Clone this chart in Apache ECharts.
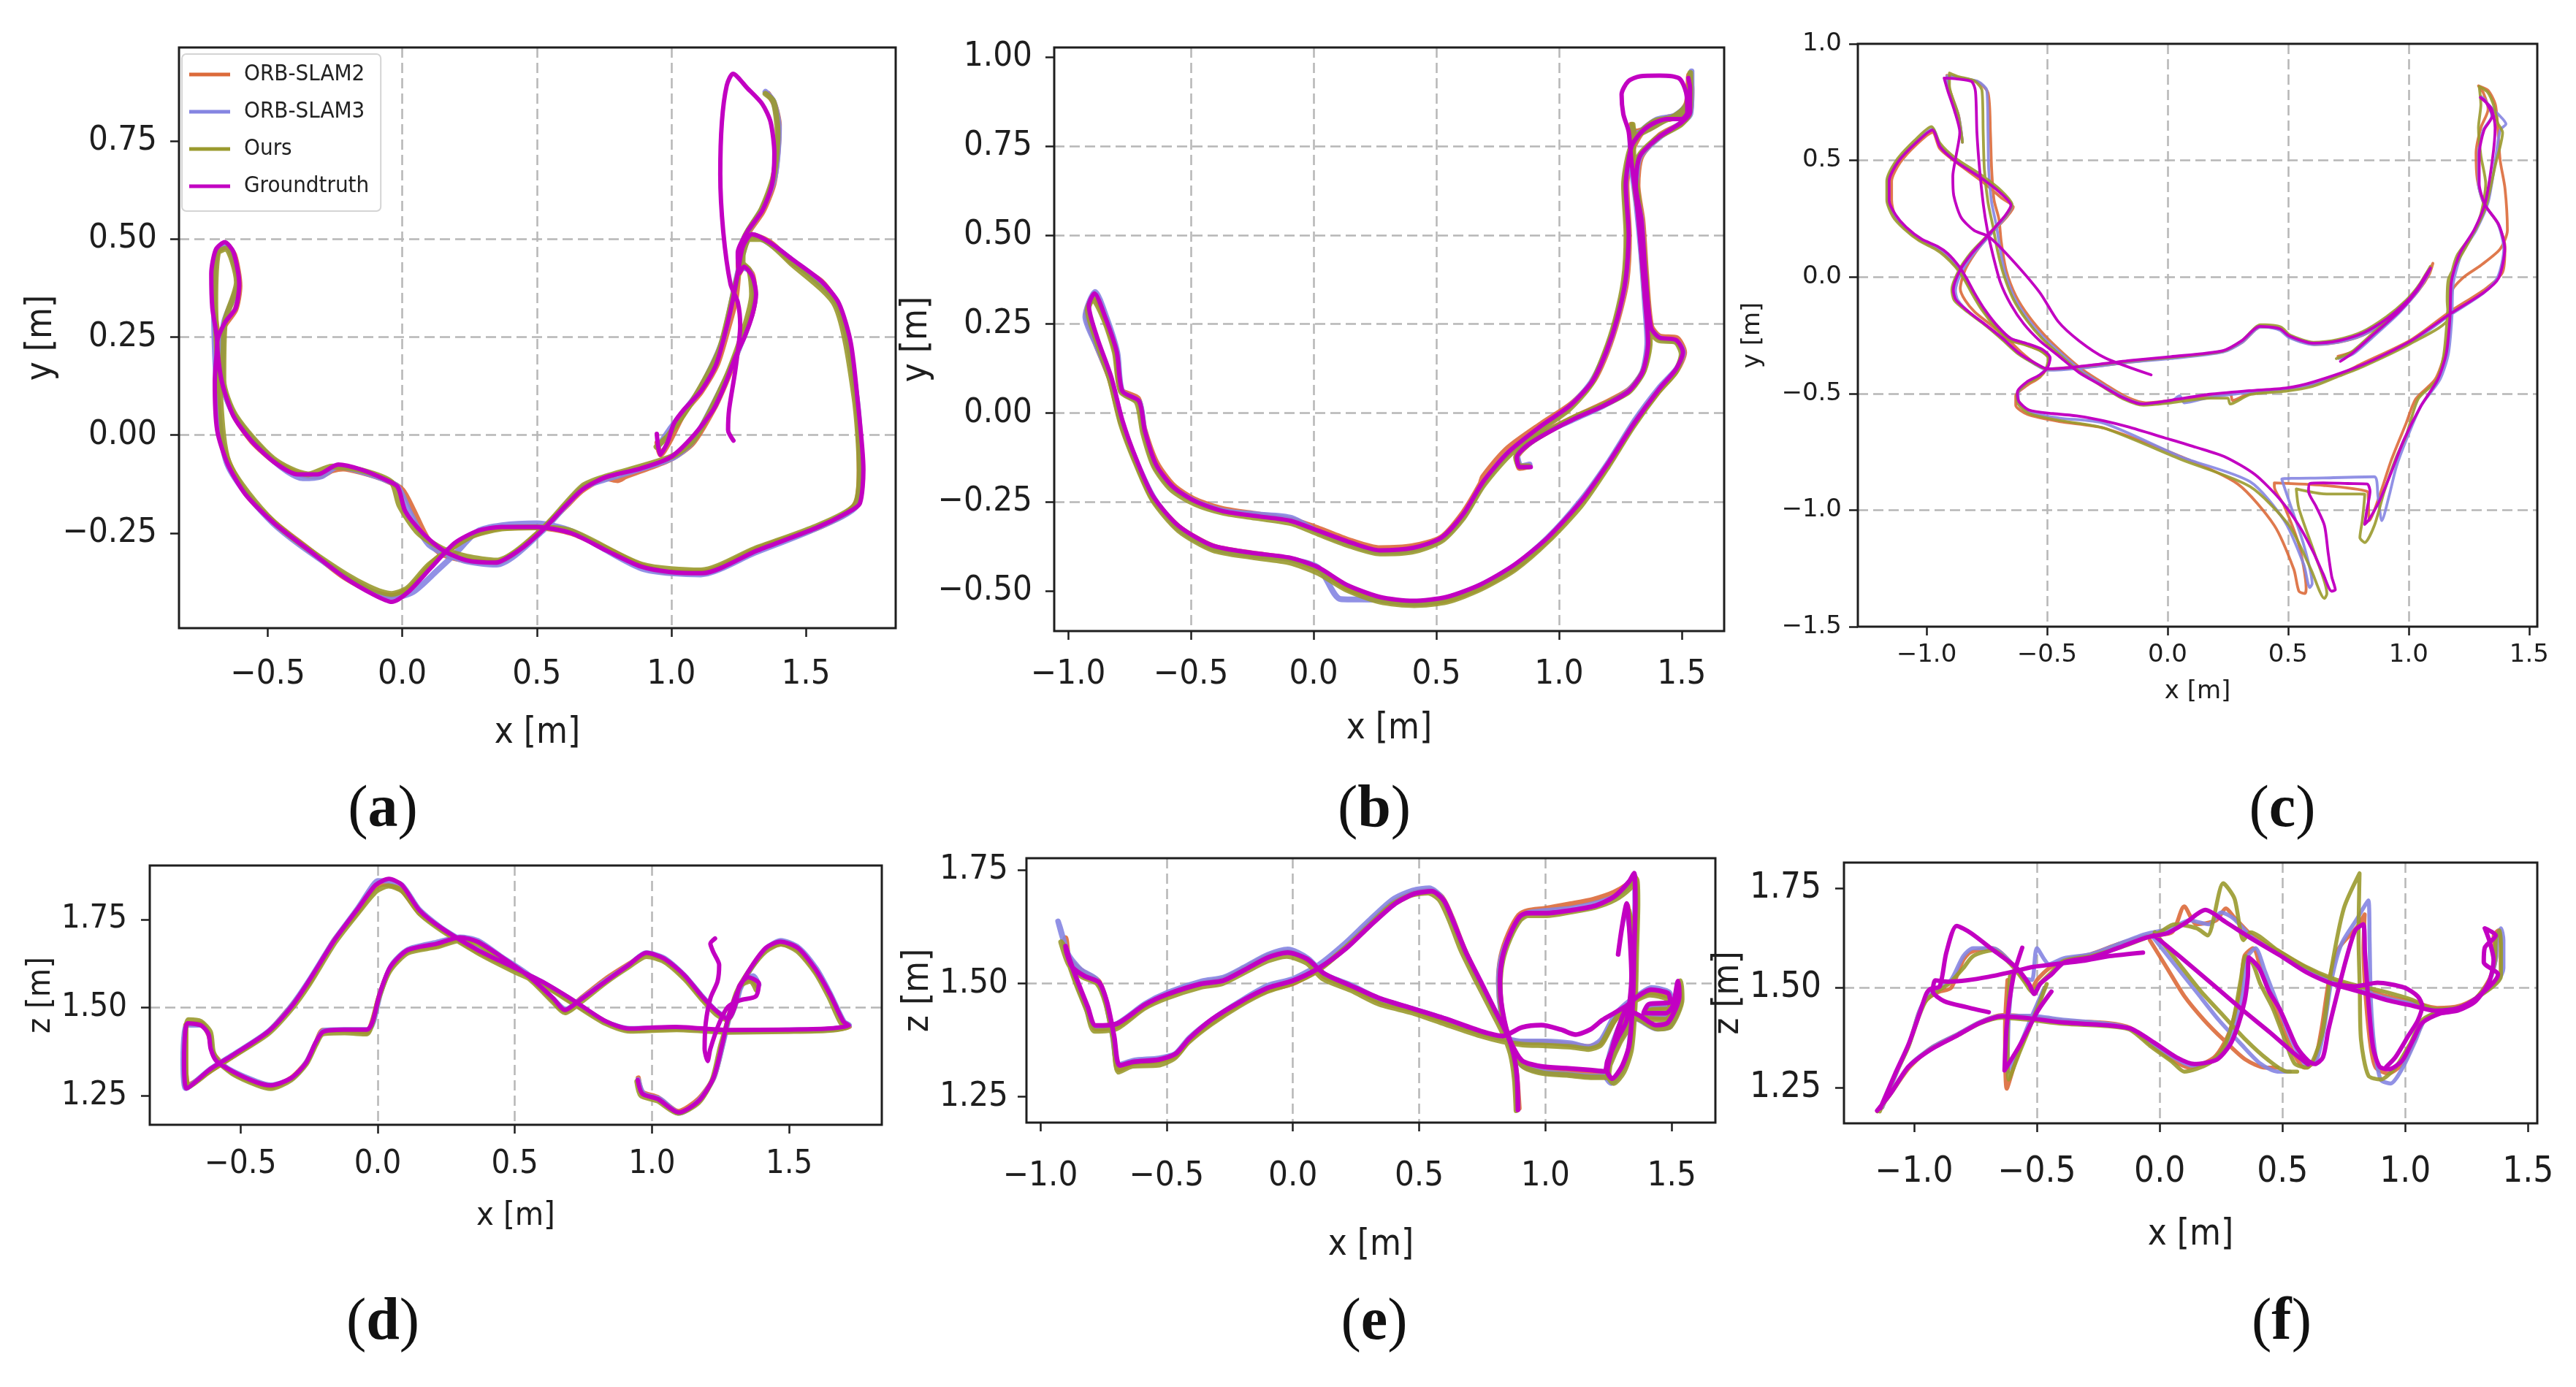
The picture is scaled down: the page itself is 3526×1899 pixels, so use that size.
<!DOCTYPE html>
<html><head><meta charset="utf-8">
<script src="https://cdn.jsdelivr.net/npm/echarts@6/dist/echarts.min.js"></script>
<style>html,body{margin:0;padding:0;background:#fff}#c{width:3526px;height:1899px}</style>
</head><body><div id="c"></div>
<script>
const NAMES = ['ORB-SLAM2', 'ORB-SLAM3', 'Ours', 'Groundtruth'];
const PANEL_LABELS = ['a', 'b', 'c', 'd', 'e', 'f'];
const GAP = [null, null];

// tick values
const TX_AD = [-0.5, 0, 0.5, 1.0, 1.5];
const TX_BCEF = [-1.0, -0.5, 0, 0.5, 1.0, 1.5];
const TY_A = [-0.25, 0, 0.25, 0.5, 0.75];
const TY_B = [-0.5, -0.25, 0, 0.25, 0.5, 0.75, 1.0];
const TY_C = [-1.5, -1.0, -0.5, 0, 0.5, 1.0];
const TZ = [1.25, 1.5, 1.75];

// ---------------- panel (a): x-y ----------------
const a_gt = [[0.946,0.003],[0.958,-0.05],[0.985,-0.02],[1.01,0.03],[1.048,0.066],[1.111,0.113],[1.166,0.179],[1.202,0.266],[1.229,0.346],[1.247,0.412],[1.265,0.479],[1.30,0.512],[1.364,0.492],[1.450,0.448],[1.558,0.392],[1.623,0.336],[1.667,0.236],[1.693,0.086],[1.714,-0.088],[1.701,-0.174],[1.656,-0.197],[1.537,-0.237],[1.320,-0.294],[1.115,-0.352],[0.996,-0.349],[0.887,-0.335],[0.758,-0.294],[0.628,-0.250],[0.498,-0.234],[0.368,-0.234],[0.281,-0.244],[0.195,-0.275],[0.108,-0.337],[0.022,-0.400],[-0.039,-0.425],[-0.108,-0.406],[-0.216,-0.362],[-0.346,-0.294],[-0.476,-0.225],[-0.584,-0.150],[-0.649,-0.074],[-0.688,0.012],[-0.697,0.137],[-0.688,0.236],[-0.706,0.324],[-0.710,0.411],[-0.693,0.473],[-0.660,0.492],[-0.628,0.467],[-0.606,0.386],[-0.619,0.324],[-0.660,0.286],[-0.688,0.236],[-0.671,0.137],[-0.628,0.049],[-0.563,-0.013],[-0.476,-0.069],[-0.390,-0.100],[-0.314,-0.100],[-0.238,-0.075],[-0.152,-0.088],[-0.065,-0.113],[-0.017,-0.132],[0.011,-0.194],[0.076,-0.250],[0.152,-0.294],[0.238,-0.319],[0.346,-0.325],[0.433,-0.294],[0.519,-0.244],[0.606,-0.181],[0.671,-0.138],[0.758,-0.107],[0.887,-0.085],[0.996,-0.057],[1.084,0.0],[1.157,0.066],[1.202,0.133],[1.238,0.199],[1.274,0.253],[1.301,0.306],[1.315,0.359],[1.301,0.405],[1.270,0.429],[1.252,0.412],[1.247,0.465],[1.283,0.519],[1.338,0.572],[1.374,0.638],[1.383,0.718],[1.369,0.798],[1.338,0.844],[1.283,0.884],[1.229,0.921],[1.206,0.891],[1.188,0.798],[1.182,0.665],[1.193,0.519],[1.220,0.385],[1.247,0.339],[1.256,0.279],[1.238,0.166],[1.215,0.066],[1.211,0.013],[1.231,-0.014]];
const a_orb2 = [[0.948,-0.02],[0.96,-0.05],[0.99,-0.02],[1.05,0.06],[1.11,0.11],[1.17,0.18],[1.21,0.27],[1.24,0.35],[1.26,0.47],[1.30,0.51],[1.37,0.49],[1.45,0.44],[1.56,0.39],[1.62,0.33],[1.66,0.23],[1.69,0.08],[1.70,-0.09],[1.69,-0.17],[1.65,-0.20],[1.53,-0.24],[1.32,-0.29],[1.11,-0.35],[0.99,-0.35],[0.88,-0.33],[0.76,-0.29],[0.63,-0.25],[0.50,-0.235],[0.37,-0.236],[0.28,-0.25],[0.20,-0.28],[0.12,-0.32],[0.03,-0.39],[-0.04,-0.41],[-0.11,-0.40],[-0.22,-0.36],[-0.35,-0.29],[-0.48,-0.22],[-0.58,-0.15],[-0.645,-0.07],[-0.68,0.01],[-0.69,0.14],[-0.685,0.24],[-0.70,0.33],[-0.70,0.41],[-0.685,0.47],[-0.655,0.48],[-0.625,0.46],[-0.605,0.38],[-0.62,0.32],[-0.66,0.28],[-0.685,0.23],[-0.67,0.13],[-0.625,0.05],[-0.56,-0.015],[-0.47,-0.07],[-0.38,-0.10],[-0.31,-0.105],[-0.26,-0.09],[-0.22,-0.085],[-0.15,-0.095],[-0.06,-0.115],[0.0,-0.14],[0.04,-0.19],[0.09,-0.26],[0.14,-0.30],[0.24,-0.32],[0.35,-0.325],[0.44,-0.29],[0.52,-0.24],[0.61,-0.18],[0.67,-0.14],[0.76,-0.11],[0.80,-0.115],[0.83,-0.105],[0.89,-0.09],[1.00,-0.06],[1.08,-0.02],[1.16,0.07],[1.20,0.13],[1.24,0.20],[1.27,0.26],[1.30,0.31],[1.31,0.36],[1.30,0.41],[1.27,0.43],[1.25,0.41],[1.25,0.46],[1.29,0.52],[1.34,0.57],[1.38,0.64],[1.395,0.72],[1.40,0.79],[1.385,0.84],[1.36,0.87]];
const a_orb3 = [[0.95,-0.03],[1.00,0.02],[1.10,0.11],[1.19,0.24],[1.25,0.42],[1.30,0.51],[1.45,0.445],[1.62,0.33],[1.69,0.09],[1.705,-0.09],[1.69,-0.18],[1.53,-0.24],[1.31,-0.30],[1.11,-0.355],[0.89,-0.34],[0.63,-0.245],[0.50,-0.225],[0.37,-0.23],[0.28,-0.245],[0.20,-0.30],[0.13,-0.345],[0.04,-0.40],[-0.04,-0.415],[-0.21,-0.36],[-0.48,-0.225],[-0.65,-0.075],[-0.69,0.13],[-0.70,0.33],[-0.69,0.47],[-0.655,0.485],[-0.61,0.39],[-0.665,0.28],[-0.67,0.14],[-0.62,0.045],[-0.48,-0.065],[-0.37,-0.11],[-0.30,-0.105],[-0.24,-0.08],[-0.12,-0.10],[-0.02,-0.13],[0.03,-0.20],[0.10,-0.28],[0.23,-0.32],[0.35,-0.33],[0.52,-0.245],[0.67,-0.135],[0.77,-0.11],[1.00,-0.06],[1.08,-0.015],[1.20,0.14],[1.28,0.27],[1.31,0.35],[1.29,0.42],[1.26,0.43],[1.27,0.50],[1.34,0.58],[1.385,0.66],[1.40,0.78],[1.38,0.85],[1.35,0.875]];
const a_ours = [[0.945,-0.03],[0.99,0.0],[1.09,0.10],[1.18,0.22],[1.245,0.40],[1.29,0.50],[1.33,0.50],[1.45,0.435],[1.61,0.33],[1.68,0.10],[1.70,-0.09],[1.68,-0.18],[1.53,-0.235],[1.31,-0.29],[1.11,-0.345],[0.89,-0.33],[0.63,-0.245],[0.49,-0.235],[0.37,-0.238],[0.25,-0.26],[0.10,-0.33],[0.02,-0.39],[-0.04,-0.405],[-0.21,-0.355],[-0.48,-0.22],[-0.645,-0.07],[-0.68,0.13],[-0.695,0.34],[-0.685,0.465],[-0.655,0.475],[-0.615,0.39],[-0.66,0.285],[-0.665,0.14],[-0.62,0.05],[-0.48,-0.06],[-0.35,-0.10],[-0.26,-0.08],[-0.15,-0.09],[-0.04,-0.12],[-0.01,-0.18],[0.06,-0.25],[0.15,-0.29],[0.24,-0.31],[0.35,-0.32],[0.52,-0.24],[0.67,-0.13],[0.76,-0.105],[1.00,-0.055],[1.085,-0.01],[1.20,0.14],[1.27,0.27],[1.30,0.36],[1.29,0.42],[1.265,0.44],[1.27,0.50],[1.335,0.575],[1.38,0.66],[1.395,0.77],[1.38,0.85],[1.35,0.87]];

// ---------------- panel (b): x-y ----------------
const b_gt = [[0.885,-0.152],[0.839,-0.152],[0.828,-0.125],[0.873,-0.090],[0.953,-0.056],[1.067,-0.015],[1.181,0.020],[1.284,0.061],[1.341,0.116],[1.363,0.198],[1.352,0.308],[1.336,0.446],[1.318,0.583],[1.295,0.707],[1.284,0.790],[1.262,0.840],[1.255,0.895],[1.282,0.932],[1.330,0.946],[1.409,0.948],[1.490,0.940],[1.518,0.900],[1.523,0.845],[1.500,0.826],[1.440,0.826],[1.380,0.812],[1.330,0.785],[1.295,0.748],[1.272,0.639],[1.284,0.501],[1.272,0.377],[1.238,0.267],[1.192,0.171],[1.135,0.088],[1.044,0.020],[0.930,-0.035],[0.794,-0.110],[0.691,-0.193],[0.611,-0.283],[0.520,-0.351],[0.406,-0.379],[0.269,-0.386],[0.155,-0.365],[0.019,-0.331],[-0.095,-0.303],[-0.232,-0.290],[-0.369,-0.276],[-0.483,-0.248],[-0.574,-0.207],[-0.642,-0.145],[-0.688,-0.049],[-0.711,0.033],[-0.779,0.061],[-0.802,0.171],[-0.848,0.267],[-0.893,0.336],[-0.916,0.302],[-0.882,0.212],[-0.825,0.102],[-0.779,-0.021],[-0.722,-0.131],[-0.654,-0.234],[-0.551,-0.317],[-0.414,-0.372],[-0.255,-0.393],[-0.095,-0.407],[0.019,-0.434],[0.132,-0.482],[0.269,-0.517],[0.406,-0.528],[0.543,-0.517],[0.680,-0.482],[0.817,-0.427],[0.953,-0.351],[1.090,-0.248],[1.204,-0.138],[1.306,-0.029],[1.409,0.068],[1.477,0.123],[1.505,0.171],[1.477,0.205],[1.409,0.212],[1.375,0.240],[1.352,0.391],[1.336,0.542],[1.313,0.639],[1.329,0.721],[1.409,0.776],[1.500,0.817],[1.534,0.845],[1.534,0.913],[1.527,0.941]];
const b_orb2 = [[0.88,-0.15],[0.84,-0.155],[0.83,-0.125],[0.875,-0.088],[0.955,-0.05],[1.07,-0.01],[1.18,0.025],[1.285,0.065],[1.345,0.12],[1.365,0.20],[1.355,0.31],[1.34,0.45],[1.32,0.59],[1.30,0.70],[1.295,0.81],[1.31,0.79],[1.36,0.80],[1.44,0.83],[1.52,0.84],[1.535,0.90],[1.53,0.95],[1.52,0.87],[1.47,0.83],[1.40,0.82],[1.34,0.79],[1.30,0.74],[1.275,0.64],[1.285,0.50],[1.275,0.37],[1.24,0.265],[1.195,0.17],[1.14,0.09],[1.05,0.025],[0.93,-0.03],[0.79,-0.10],[0.69,-0.18],[0.68,-0.20],[0.61,-0.28],[0.52,-0.35],[0.40,-0.375],[0.27,-0.38],[0.155,-0.36],[0.02,-0.325],[-0.09,-0.30],[-0.23,-0.285],[-0.37,-0.27],[-0.48,-0.245],[-0.57,-0.205],[-0.64,-0.14],[-0.69,-0.045],[-0.715,0.04],[-0.785,0.065],[-0.805,0.17],[-0.85,0.265],[-0.895,0.33],[-0.925,0.28],[-0.89,0.20],[-0.83,0.095],[-0.785,-0.025],[-0.725,-0.135],[-0.655,-0.24],[-0.55,-0.32],[-0.41,-0.375],[-0.25,-0.395],[-0.10,-0.41],[0.02,-0.44],[0.13,-0.49],[0.27,-0.525],[0.41,-0.535],[0.545,-0.525],[0.68,-0.49],[0.82,-0.435],[0.955,-0.355],[1.09,-0.25],[1.205,-0.14],[1.305,-0.03],[1.41,0.065],[1.48,0.12],[1.51,0.17],[1.48,0.21],[1.41,0.215],[1.375,0.245],[1.355,0.39],[1.34,0.54],[1.32,0.64],[1.335,0.72],[1.41,0.78],[1.50,0.815],[1.535,0.85],[1.54,0.91],[1.535,0.945]];
const b_orb3 = [[0.88,-0.145],[0.845,-0.15],[0.83,-0.12],[0.88,-0.085],[0.96,-0.05],[1.07,-0.015],[1.18,0.02],[1.28,0.06],[1.34,0.115],[1.36,0.20],[1.35,0.31],[1.335,0.45],[1.315,0.59],[1.295,0.70],[1.29,0.80],[1.31,0.785],[1.37,0.80],[1.45,0.83],[1.52,0.845],[1.535,0.91],[1.54,0.96],[1.525,0.87],[1.47,0.835],[1.40,0.825],[1.34,0.795],[1.295,0.745],[1.27,0.64],[1.28,0.50],[1.27,0.375],[1.235,0.265],[1.19,0.17],[1.13,0.085],[1.04,0.015],[0.93,-0.04],[0.79,-0.115],[0.69,-0.20],[0.61,-0.29],[0.52,-0.355],[0.40,-0.385],[0.27,-0.39],[0.155,-0.37],[0.02,-0.335],[-0.09,-0.295],[-0.23,-0.285],[-0.37,-0.275],[-0.48,-0.25],[-0.575,-0.21],[-0.645,-0.15],[-0.69,-0.05],[-0.71,0.03],[-0.78,0.06],[-0.80,0.17],[-0.845,0.27],[-0.89,0.34],[-0.93,0.27],[-0.885,0.19],[-0.825,0.09],[-0.78,-0.03],[-0.72,-0.14],[-0.65,-0.24],[-0.55,-0.325],[-0.41,-0.38],[-0.25,-0.40],[-0.10,-0.41],[0.02,-0.435],[0.11,-0.523],[0.27,-0.525],[0.41,-0.535],[0.545,-0.52],[0.68,-0.485],[0.82,-0.43],[0.955,-0.35],[1.09,-0.245],[1.205,-0.135],[1.31,-0.02],[1.41,0.072],[1.48,0.125],[1.505,0.17],[1.48,0.20],[1.41,0.21],[1.37,0.24],[1.35,0.39],[1.335,0.54],[1.315,0.64],[1.33,0.72],[1.41,0.775],[1.50,0.815],[1.535,0.84],[1.54,0.91],[1.54,0.955]];
const b_ours = [[0.875,-0.15],[0.84,-0.15],[0.825,-0.125],[0.87,-0.09],[0.95,-0.055],[1.065,-0.012],[1.18,0.022],[1.285,0.06],[1.345,0.118],[1.37,0.20],[1.36,0.31],[1.345,0.45],[1.325,0.59],[1.305,0.70],[1.30,0.81],[1.31,0.78],[1.36,0.795],[1.44,0.825],[1.515,0.84],[1.53,0.90],[1.535,0.955],[1.52,0.865],[1.46,0.83],[1.39,0.82],[1.335,0.79],[1.29,0.74],[1.265,0.64],[1.275,0.50],[1.265,0.375],[1.23,0.26],[1.185,0.165],[1.13,0.08],[1.04,0.01],[0.93,-0.045],[0.795,-0.12],[0.69,-0.205],[0.61,-0.295],[0.52,-0.36],[0.40,-0.39],[0.27,-0.395],[0.155,-0.375],[0.02,-0.34],[-0.09,-0.31],[-0.23,-0.295],[-0.37,-0.28],[-0.485,-0.255],[-0.58,-0.215],[-0.65,-0.15],[-0.695,-0.055],[-0.72,0.03],[-0.785,0.06],[-0.81,0.17],[-0.855,0.265],[-0.90,0.32],[-0.92,0.29],[-0.885,0.205],[-0.83,0.095],[-0.785,-0.03],[-0.725,-0.14],[-0.655,-0.245],[-0.55,-0.33],[-0.41,-0.385],[-0.25,-0.405],[-0.10,-0.42],[0.02,-0.45],[0.13,-0.495],[0.27,-0.53],[0.41,-0.54],[0.545,-0.53],[0.68,-0.495],[0.82,-0.44],[0.955,-0.36],[1.09,-0.26],[1.20,-0.15],[1.30,-0.04],[1.405,0.06],[1.475,0.115],[1.50,0.165],[1.475,0.20],[1.405,0.205],[1.37,0.235],[1.345,0.39],[1.33,0.54],[1.31,0.64],[1.325,0.72],[1.405,0.775],[1.495,0.81],[1.53,0.84],[1.535,0.91],[1.535,0.95]];

// ---------------- panel (c): x-y ----------------
const c_gt = [[-0.068,-0.420],[-0.259,-0.347],[-0.367,-0.274],[-0.454,-0.191],[-0.530,-0.067],[-0.650,0.079],[-0.742,0.173],[-0.802,0.199],[-0.857,0.256],[-0.887,0.349],[-0.891,0.432],[-0.878,0.516],[-0.862,0.620],[-0.884,0.713],[-0.911,0.796],[-0.927,0.853],[-0.878,0.850],[-0.813,0.838],[-0.797,0.796],[-0.791,0.620],[-0.780,0.464],[-0.764,0.308],[-0.748,0.204],[-0.726,0.100],[-0.693,-0.025],[-0.650,-0.119],[-0.596,-0.202],[-0.530,-0.274],[-0.454,-0.337],[-0.367,-0.410],[-0.280,-0.462],[-0.193,-0.514],[-0.107,-0.545],[0.013,-0.529],[0.176,-0.503],[0.339,-0.488],[0.494,-0.476],[0.606,-0.450],[0.808,-0.377],[1.010,-0.274],[1.172,-0.159],[1.313,-0.066],[1.374,-0.004],[1.399,0.121],[1.374,0.225],[1.318,0.308],[1.293,0.401],[1.293,0.526],[1.313,0.630],[1.348,0.692],[1.318,0.754],[1.298,0.770],[1.343,0.723],[1.359,0.640],[1.348,0.505],[1.318,0.318],[1.273,0.204],[1.212,0.100],[1.177,-0.024],[1.172,-0.170],[1.157,-0.326],[1.121,-0.440],[1.051,-0.554],[0.980,-0.700],[0.929,-0.836],[0.879,-0.961],[0.833,-1.045],[0.818,-1.061],[0.828,-0.993],[0.840,-0.920],[0.828,-0.888],[0.747,-0.886],[0.646,-0.883],[0.590,-0.886],[0.585,-0.920],[0.615,-0.982],[0.651,-1.066],[0.666,-1.181],[0.681,-1.285],[0.696,-1.342],[0.681,-1.348],[0.646,-1.275],[0.605,-1.181],[0.545,-1.066],[0.464,-0.951],[0.362,-0.847],[0.241,-0.773],[0.119,-0.731],[-0.012,-0.690],[-0.164,-0.643],[-0.265,-0.617],[-0.367,-0.597],[-0.476,-0.586],[-0.574,-0.571],[-0.617,-0.534],[-0.623,-0.493],[-0.585,-0.451],[-0.530,-0.420],[-0.498,-0.389],[-0.487,-0.347],[-0.520,-0.311],[-0.585,-0.285],[-0.650,-0.264],[-0.704,-0.212],[-0.759,-0.139],[-0.802,-0.067],[-0.835,-0.004],[-0.867,0.048],[-0.911,0.100],[-0.954,0.131],[-1.020,0.162],[-1.085,0.214],[-1.128,0.266],[-1.155,0.328],[-1.155,0.412],[-1.117,0.495],[-1.041,0.578],[-0.976,0.630],[-0.943,0.557],[-0.878,0.495],[-0.770,0.422],[-0.693,0.360],[-0.650,0.308],[-0.672,0.266],[-0.715,0.214],[-0.759,0.162],[-0.813,0.100],[-0.862,0.027],[-0.889,-0.056],[-0.878,-0.098],[-0.824,-0.150],[-0.759,-0.202],[-0.683,-0.264],[-0.617,-0.326],[-0.552,-0.368],[-0.498,-0.394],[-0.367,-0.384],[-0.150,-0.358],[0.013,-0.342],[0.230,-0.316],[0.307,-0.274],[0.383,-0.212],[0.465,-0.222],[0.505,-0.253],[0.606,-0.284],[0.707,-0.274],[0.808,-0.242],[0.909,-0.180],[0.990,-0.107],[1.040,-0.045],[1.071,0.007],[1.091,0.038],[1.076,0.007],[1.030,-0.066],[0.960,-0.149],[0.859,-0.242],[0.768,-0.326],[0.717,-0.362]];
const c_orb2 = [[-0.851,0.578],[-0.867,0.692],[-0.905,0.807],[-0.916,0.865],[-0.878,0.857],[-0.790,0.838],[-0.745,0.79],[-0.735,0.62],[-0.730,0.464],[-0.720,0.33],[-0.70,0.25],[-0.69,0.15],[-0.67,0.03],[-0.63,-0.08],[-0.575,-0.17],[-0.51,-0.25],[-0.43,-0.33],[-0.35,-0.40],[-0.26,-0.46],[-0.17,-0.515],[-0.09,-0.54],[0.013,-0.53],[0.18,-0.51],[0.26,-0.50],[0.27,-0.53],[0.34,-0.50],[0.49,-0.48],[0.60,-0.46],[0.70,-0.425],[0.81,-0.37],[1.01,-0.27],[1.17,-0.15],[1.32,-0.05],[1.39,0.02],[1.40,0.13],[1.37,0.23],[1.31,0.32],[1.285,0.42],[1.28,0.53],[1.30,0.64],[1.33,0.72],[1.31,0.79],[1.29,0.82],[1.33,0.80],[1.36,0.74],[1.37,0.64],[1.38,0.50],[1.40,0.38],[1.41,0.20],[1.38,0.12],[1.30,0.05],[1.23,0.0],[1.18,-0.06],[1.17,-0.20],[1.15,-0.33],[1.11,-0.44],[1.03,-0.523],[0.99,-0.627],[0.929,-0.784],[0.879,-0.940],[0.838,-1.045],[0.833,-0.951],[0.828,-0.920],[0.646,-0.894],[0.443,-0.883],[0.443,-0.899],[0.484,-0.982],[0.545,-1.149],[0.575,-1.337],[0.570,-1.358],[0.545,-1.348],[0.524,-1.254],[0.443,-1.066],[0.291,-0.888],[0.038,-0.763],[-0.265,-0.648],[-0.45,-0.62],[-0.58,-0.59],[-0.63,-0.55],[-0.63,-0.51],[-0.59,-0.47],[-0.53,-0.43],[-0.50,-0.39],[-0.49,-0.35],[-0.52,-0.32],[-0.59,-0.29],[-0.66,-0.265],[-0.71,-0.21],[-0.765,-0.14],[-0.805,-0.07],[-0.84,-0.01],[-0.875,0.045],[-0.92,0.095],[-0.96,0.125],[-1.03,0.16],[-1.09,0.21],[-1.13,0.26],[-1.145,0.33],[-1.145,0.41],[-1.11,0.49],[-1.04,0.57],[-0.975,0.62],[-0.945,0.55],[-0.875,0.49],[-0.77,0.41],[-0.69,0.34],[-0.64,0.30],[-0.665,0.26],[-0.71,0.21],[-0.755,0.16],[-0.80,0.10],[-0.84,0.03],[-0.86,-0.05],[-0.84,-0.10],[-0.80,-0.15],[-0.74,-0.20],[-0.67,-0.26],[-0.61,-0.32],[-0.55,-0.37],[-0.498,-0.395],[-0.367,-0.39],[-0.15,-0.365],[0.013,-0.345],[0.23,-0.32],[0.31,-0.28],[0.385,-0.215],[0.41,-0.215],[0.47,-0.225],[0.51,-0.26],[0.61,-0.29],[0.71,-0.28],[0.81,-0.25],[0.91,-0.19],[0.99,-0.115],[1.04,-0.05],[1.075,0.005],[1.101,0.059],[1.085,0.01],[1.04,-0.06],[0.97,-0.14],[0.87,-0.235],[0.78,-0.315],[0.707,-0.34]];
const c_orb3 = [[-0.851,0.578],[-0.867,0.69],[-0.908,0.81],[-0.915,0.862],[-0.875,0.855],[-0.79,0.84],[-0.75,0.80],[-0.745,0.62],[-0.742,0.46],[-0.73,0.32],[-0.71,0.22],[-0.695,0.12],[-0.675,0.02],[-0.635,-0.09],[-0.58,-0.18],[-0.515,-0.26],[-0.435,-0.335],[-0.355,-0.405],[-0.265,-0.465],[-0.175,-0.52],[-0.095,-0.545],[0.013,-0.535],[0.05,-0.51],[0.07,-0.54],[0.18,-0.515],[0.34,-0.495],[0.49,-0.48],[0.60,-0.46],[0.70,-0.425],[0.81,-0.38],[1.01,-0.28],[1.17,-0.165],[1.31,-0.07],[1.37,0.0],[1.395,0.12],[1.37,0.23],[1.315,0.31],[1.29,0.40],[1.29,0.53],[1.31,0.63],[1.345,0.69],[1.32,0.755],[1.30,0.775],[1.345,0.725],[1.37,0.70],[1.404,0.656],[1.38,0.63],[1.36,0.50],[1.33,0.32],[1.28,0.20],[1.22,0.10],[1.185,-0.03],[1.18,-0.17],[1.165,-0.33],[1.13,-0.44],[1.051,-0.554],[0.99,-0.70],[0.949,-0.815],[0.919,-0.94],[0.889,-1.045],[0.873,-0.94],[0.858,-0.857],[0.646,-0.862],[0.474,-0.867],[0.504,-0.961],[0.565,-1.149],[0.600,-1.316],[0.590,-1.332],[0.565,-1.233],[0.484,-1.045],[0.342,-0.878],[0.059,-0.773],[-0.265,-0.627],[-0.45,-0.605],[-0.57,-0.58],[-0.615,-0.54],[-0.62,-0.50],[-0.585,-0.455],[-0.53,-0.42],[-0.50,-0.385],[-0.49,-0.345],[-0.525,-0.31],[-0.59,-0.285],[-0.655,-0.262],[-0.71,-0.208],[-0.765,-0.136],[-0.808,-0.065],[-0.842,-0.002],[-0.875,0.05],[-0.918,0.10],[-0.96,0.13],[-1.025,0.162],[-1.09,0.214],[-1.135,0.265],[-1.16,0.33],[-1.16,0.41],[-1.12,0.495],[-1.045,0.578],[-0.975,0.635],[-0.94,0.56],[-0.875,0.495],[-0.765,0.42],[-0.685,0.355],[-0.645,0.305],[-0.668,0.262],[-0.712,0.21],[-0.755,0.158],[-0.808,0.095],[-0.855,0.02],[-0.88,-0.06],[-0.87,-0.10],[-0.82,-0.155],[-0.755,-0.205],[-0.68,-0.27],[-0.615,-0.33],[-0.55,-0.375],[-0.498,-0.40],[-0.367,-0.392],[-0.15,-0.365],[0.013,-0.35],[0.23,-0.322],[0.31,-0.28],[0.385,-0.215],[0.405,-0.215],[0.465,-0.228],[0.505,-0.26],[0.606,-0.29],[0.707,-0.28],[0.808,-0.25],[0.909,-0.19],[0.99,-0.115],[1.04,-0.05],[1.07,0.0],[1.09,0.035],[1.075,0.0],[1.03,-0.072],[0.96,-0.155],[0.86,-0.25],[0.77,-0.33],[0.71,-0.35]];
const c_ours = [[-0.851,0.578],[-0.87,0.70],[-0.905,0.82],[-0.905,0.875],[-0.87,0.86],[-0.80,0.84],[-0.77,0.80],[-0.765,0.62],[-0.76,0.46],[-0.745,0.32],[-0.725,0.22],[-0.705,0.11],[-0.68,0.01],[-0.64,-0.095],[-0.585,-0.185],[-0.52,-0.265],[-0.44,-0.34],[-0.36,-0.41],[-0.27,-0.47],[-0.18,-0.525],[-0.10,-0.55],[0.013,-0.54],[0.18,-0.52],[0.25,-0.52],[0.26,-0.545],[0.34,-0.505],[0.49,-0.49],[0.60,-0.47],[0.70,-0.43],[0.81,-0.385],[1.01,-0.285],[1.165,-0.175],[1.16,-0.10],[1.165,-0.01],[1.20,0.06],[1.26,0.17],[1.30,0.27],[1.32,0.40],[1.30,0.52],[1.29,0.64],[1.30,0.74],[1.293,0.817],[1.33,0.79],[1.355,0.73],[1.37,0.66],[1.39,0.62],[1.36,0.48],[1.32,0.30],[1.27,0.19],[1.20,0.09],[1.17,-0.03],[1.16,-0.18],[1.145,-0.34],[1.115,-0.445],[1.040,-0.523],[0.990,-0.680],[0.949,-0.773],[0.899,-0.920],[0.858,-1.066],[0.818,-1.139],[0.798,-1.118],[0.808,-1.045],[0.818,-0.932],[0.646,-0.930],[0.534,-0.909],[0.545,-0.993],[0.615,-1.201],[0.661,-1.358],[0.651,-1.379],[0.595,-1.254],[0.504,-1.066],[0.342,-0.899],[0.059,-0.784],[-0.265,-0.648],[-0.45,-0.615],[-0.575,-0.585],[-0.62,-0.545],[-0.625,-0.505],[-0.59,-0.46],[-0.535,-0.43],[-0.505,-0.395],[-0.495,-0.35],[-0.53,-0.315],[-0.595,-0.29],[-0.66,-0.27],[-0.715,-0.215],[-0.77,-0.142],[-0.812,-0.07],[-0.845,-0.008],[-0.88,0.043],[-0.925,0.09],[-0.965,0.12],[-1.03,0.155],[-1.095,0.208],[-1.14,0.26],[-1.165,0.33],[-1.165,0.41],[-1.125,0.50],[-1.05,0.585],[-0.98,0.645],[-0.945,0.575],[-0.88,0.51],[-0.77,0.435],[-0.69,0.37],[-0.645,0.31],[-0.67,0.265],[-0.715,0.215],[-0.76,0.165],[-0.815,0.105],[-0.865,0.03],[-0.895,-0.055],[-0.885,-0.10],[-0.83,-0.15],[-0.765,-0.20],[-0.69,-0.265],[-0.62,-0.33],[-0.555,-0.37],[-0.50,-0.395],[-0.37,-0.385],[-0.15,-0.36],[0.013,-0.345],[0.23,-0.318],[0.31,-0.272],[0.385,-0.205],[0.405,-0.205],[0.47,-0.215],[0.51,-0.25],[0.606,-0.28],[0.707,-0.268],[0.808,-0.235],[0.909,-0.17],[0.99,-0.10],[1.04,-0.04],[1.07,0.01],[1.09,0.045],[1.072,0.01],[1.025,-0.06],[0.955,-0.145],[0.855,-0.238],[0.765,-0.32],[0.70,-0.35]];

// ---------------- panel (d): x-z ----------------
const d_gt = [[0.948,1.294],[0.965,1.255],[1.022,1.240],[1.097,1.202],[1.171,1.235],[1.224,1.300],[1.256,1.395],[1.281,1.479],[1.315,1.550],[1.362,1.615],[1.415,1.669],[1.468,1.687],[1.532,1.669],[1.595,1.610],[1.649,1.538],[1.697,1.461],[1.718,1.449],[1.638,1.440],[1.489,1.437],[1.277,1.436],[1.086,1.445],[1.001,1.443],[0.916,1.440],[0.831,1.461],[0.714,1.520],[0.598,1.574],[0.492,1.615],[0.365,1.663],[0.237,1.723],[0.152,1.776],[0.088,1.848],[0.041,1.865],[-0.007,1.848],[-0.071,1.782],[-0.156,1.693],[-0.252,1.574],[-0.315,1.502],[-0.400,1.431],[-0.528,1.365],[-0.612,1.324],[-0.697,1.270],[-0.706,1.348],[-0.702,1.431],[-0.693,1.455],[-0.644,1.449],[-0.617,1.425],[-0.609,1.383],[-0.588,1.348],[-0.528,1.318],[-0.443,1.288],[-0.390,1.279],[-0.315,1.300],[-0.262,1.342],[-0.226,1.401],[-0.199,1.431],[-0.124,1.437],[-0.039,1.437],[-0.018,1.461],[0.007,1.538],[0.046,1.615],[0.109,1.663],[0.215,1.681],[0.300,1.699],[0.364,1.687],[0.449,1.645],[0.555,1.586],[0.640,1.526],[0.683,1.493],[0.736,1.520],[0.831,1.574],[0.916,1.621],[0.980,1.655],[1.044,1.639],[1.118,1.592],[1.182,1.532],[1.235,1.490],[1.277,1.467],[1.302,1.502],[1.319,1.562],[1.351,1.586],[1.390,1.568],[1.379,1.532],[1.320,1.520],[1.277,1.502],[1.245,1.455],[1.213,1.383],[1.203,1.348],[1.192,1.383],[1.196,1.455],[1.213,1.526],[1.239,1.574],[1.245,1.621],[1.224,1.657],[1.213,1.681],[1.230,1.696]];
const d_orb2 = [[0.95,1.30],[0.965,1.26],[1.02,1.245],[1.097,1.205],[1.17,1.24],[1.225,1.30],[1.256,1.39],[1.28,1.475],[1.315,1.545],[1.36,1.61],[1.415,1.665],[1.47,1.68],[1.53,1.665],[1.595,1.605],[1.65,1.535],[1.70,1.455],[1.72,1.445],[1.64,1.437],[1.49,1.435],[1.28,1.434],[1.09,1.44],[0.92,1.437],[0.83,1.46],[0.71,1.515],[0.60,1.57],[0.49,1.612],[0.36,1.66],[0.24,1.72],[0.15,1.77],[0.085,1.835],[0.02,1.85],[-0.01,1.84],[-0.07,1.775],[-0.16,1.69],[-0.25,1.57],[-0.32,1.50],[-0.40,1.43],[-0.53,1.36],[-0.61,1.32],[-0.69,1.28],[-0.70,1.35],[-0.70,1.45],[-0.645,1.455],[-0.615,1.42],[-0.60,1.37],[-0.53,1.315],[-0.44,1.285],[-0.39,1.275],[-0.315,1.30],[-0.26,1.345],[-0.225,1.40],[-0.20,1.435],[-0.12,1.435],[-0.04,1.43],[-0.02,1.46],[0.005,1.53],[0.045,1.61],[0.11,1.66],[0.215,1.675],[0.30,1.695],[0.365,1.685],[0.45,1.64],[0.555,1.585],[0.64,1.52],[0.683,1.49],[0.74,1.525],[0.83,1.58],[0.92,1.625],[0.98,1.652],[1.045,1.635],[1.12,1.585],[1.18,1.53],[1.24,1.485],[1.28,1.47],[1.30,1.51],[1.325,1.565],[1.36,1.58],[1.385,1.56]];
const d_orb3 = [[0.95,1.295],[0.97,1.255],[1.03,1.24],[1.10,1.20],[1.17,1.235],[1.225,1.30],[1.26,1.40],[1.285,1.48],[1.32,1.55],[1.365,1.615],[1.42,1.67],[1.47,1.69],[1.535,1.67],[1.60,1.61],[1.65,1.54],[1.70,1.46],[1.72,1.45],[1.64,1.438],[1.49,1.436],[1.28,1.432],[1.09,1.443],[0.92,1.44],[0.83,1.46],[0.71,1.52],[0.60,1.572],[0.49,1.615],[0.365,1.665],[0.235,1.725],[0.15,1.78],[0.085,1.85],[0.0,1.86],[-0.02,1.845],[-0.075,1.78],[-0.16,1.69],[-0.255,1.572],[-0.32,1.50],[-0.40,1.432],[-0.53,1.365],[-0.61,1.326],[-0.70,1.27],[-0.71,1.35],[-0.705,1.43],[-0.695,1.45],[-0.645,1.45],[-0.615,1.424],[-0.605,1.38],[-0.585,1.35],[-0.53,1.32],[-0.44,1.29],[-0.39,1.28],[-0.31,1.30],[-0.26,1.345],[-0.225,1.40],[-0.195,1.435],[-0.12,1.437],[-0.035,1.437],[-0.015,1.46],[0.01,1.54],[0.05,1.62],[0.11,1.665],[0.215,1.685],[0.30,1.70],[0.365,1.69],[0.45,1.645],[0.555,1.59],[0.64,1.525],[0.685,1.495],[0.735,1.52],[0.83,1.575],[0.915,1.62],[0.98,1.655],[1.045,1.64],[1.12,1.59],[1.18,1.535],[1.235,1.49],[1.28,1.47],[1.31,1.52],[1.33,1.57],[1.37,1.59],[1.39,1.565]];
const d_ours = [[0.945,1.29],[0.96,1.25],[1.02,1.235],[1.095,1.20],[1.17,1.23],[1.22,1.295],[1.25,1.39],[1.28,1.47],[1.31,1.545],[1.36,1.61],[1.415,1.66],[1.47,1.68],[1.53,1.66],[1.595,1.60],[1.645,1.53],[1.69,1.455],[1.715,1.445],[1.64,1.435],[1.49,1.432],[1.28,1.43],[1.09,1.437],[0.92,1.433],[0.83,1.455],[0.715,1.51],[0.60,1.565],[0.49,1.605],[0.365,1.655],[0.24,1.715],[0.155,1.765],[0.09,1.83],[0.04,1.845],[-0.005,1.83],[-0.07,1.77],[-0.155,1.685],[-0.25,1.565],[-0.315,1.495],[-0.40,1.425],[-0.53,1.36],[-0.61,1.32],[-0.69,1.275],[-0.70,1.35],[-0.70,1.43],[-0.69,1.465],[-0.645,1.46],[-0.61,1.43],[-0.60,1.375],[-0.58,1.345],[-0.525,1.31],[-0.44,1.28],[-0.39,1.27],[-0.315,1.295],[-0.26,1.34],[-0.225,1.395],[-0.20,1.425],[-0.12,1.428],[-0.04,1.425],[-0.02,1.455],[0.005,1.53],[0.045,1.605],[0.11,1.655],[0.215,1.672],[0.30,1.69],[0.365,1.68],[0.45,1.635],[0.555,1.58],[0.64,1.515],[0.683,1.485],[0.74,1.515],[0.83,1.57],[0.915,1.615],[0.98,1.645],[1.045,1.63],[1.12,1.58],[1.18,1.525],[1.235,1.48],[1.275,1.465],[1.30,1.50],[1.32,1.56],[1.36,1.575],[1.38,1.55]];

// ---------------- panel (e): x-z ----------------
const e_gt = [[0.891,1.221],[0.888,1.290],[0.874,1.344],[0.849,1.387],[0.801,1.440],[0.743,1.505],[0.685,1.569],[0.637,1.634],[0.599,1.682],[0.550,1.703],[0.483,1.698],[0.406,1.676],[0.300,1.624],[0.211,1.577],[0.101,1.533],[0.000,1.506],[-0.099,1.490],[-0.209,1.459],[-0.320,1.421],[-0.409,1.379],[-0.464,1.345],[-0.531,1.332],[-0.630,1.327],[-0.686,1.319],[-0.708,1.384],[-0.736,1.458],[-0.767,1.502],[-0.825,1.516],[-0.874,1.536],[-0.896,1.568],[-0.900,1.582],[-0.885,1.554],[-0.852,1.504],[-0.812,1.448],[-0.781,1.407],[-0.697,1.411],[-0.586,1.453],[-0.497,1.476],[-0.364,1.499],[-0.276,1.506],[-0.187,1.531],[-0.099,1.557],[-0.021,1.568],[0.056,1.554],[0.123,1.522],[0.233,1.494],[0.344,1.467],[0.477,1.444],[0.610,1.421],[0.743,1.395],[0.830,1.384],[0.907,1.403],[0.984,1.408],[1.062,1.398],[1.119,1.387],[1.177,1.398],[1.225,1.419],[1.274,1.435],[1.322,1.451],[1.370,1.473],[1.418,1.486],[1.486,1.478],[1.495,1.459],[1.409,1.454],[1.389,1.435],[1.476,1.434],[1.505,1.451],[1.525,1.505],[1.530,1.473],[1.486,1.414],[1.438,1.408],[1.370,1.430],[1.322,1.441],[1.293,1.408],[1.264,1.355],[1.245,1.306],[1.264,1.290],[1.303,1.317],[1.332,1.365],[1.346,1.462],[1.351,1.569],[1.356,1.676],[1.351,1.743],[1.332,1.725],[1.274,1.692],[1.197,1.671],[1.100,1.661],[1.004,1.655],[0.927,1.655],[0.898,1.647],[0.859,1.607],[0.830,1.558],[0.820,1.505],[0.830,1.440],[0.859,1.376],[0.907,1.330],[0.984,1.317],[1.081,1.313],[1.177,1.309],[1.235,1.306],[1.245,1.328],[1.283,1.376],[1.322,1.419],[1.341,1.515],[1.332,1.623],[1.322,1.676],[1.303,1.623],[1.288,1.564]];
const e_orb2 = [[0.895,1.225],[0.885,1.30],[0.87,1.35],[0.84,1.395],[0.79,1.45],[0.73,1.515],[0.675,1.58],[0.63,1.645],[0.59,1.69],[0.545,1.705],[0.48,1.70],[0.40,1.68],[0.30,1.63],[0.20,1.575],[0.10,1.53],[0.0,1.50],[-0.10,1.485],[-0.21,1.455],[-0.32,1.415],[-0.41,1.375],[-0.465,1.34],[-0.53,1.33],[-0.63,1.325],[-0.69,1.31],[-0.71,1.38],[-0.74,1.46],[-0.77,1.505],[-0.83,1.525],[-0.88,1.55],[-0.905,1.59],[-0.90,1.60],[-0.89,1.56],[-0.855,1.50],[-0.815,1.445],[-0.78,1.40],[-0.70,1.405],[-0.585,1.45],[-0.495,1.475],[-0.36,1.50],[-0.275,1.51],[-0.185,1.535],[-0.10,1.56],[-0.02,1.57],[0.06,1.55],[0.125,1.515],[0.235,1.49],[0.345,1.46],[0.48,1.44],[0.61,1.415],[0.745,1.39],[0.83,1.378],[0.91,1.37],[1.00,1.37],[1.10,1.365],[1.17,1.36],[1.22,1.37],[1.275,1.42],[1.32,1.45],[1.37,1.47],[1.42,1.48],[1.49,1.47],[1.50,1.45],[1.41,1.445],[1.39,1.43],[1.48,1.425],[1.51,1.445],[1.53,1.50],[1.535,1.46],[1.49,1.41],[1.44,1.405],[1.37,1.425],[1.32,1.435],[1.29,1.40],[1.26,1.35],[1.245,1.30],[1.265,1.285],[1.305,1.31],[1.335,1.36],[1.35,1.46],[1.355,1.57],[1.36,1.68],[1.355,1.735],[1.33,1.72],[1.27,1.70],[1.19,1.685],[1.10,1.675],[1.00,1.665],[0.93,1.66],[0.895,1.65],[0.855,1.61],[0.825,1.56],[0.815,1.505],[0.825,1.44],[0.855,1.375],[0.905,1.325],[0.985,1.31],[1.08,1.305],[1.18,1.30],[1.24,1.30],[1.25,1.325],[1.29,1.375],[1.33,1.42],[1.35,1.52],[1.34,1.62],[1.325,1.67]];
const e_orb3 = [[0.89,1.23],[0.882,1.30],[0.868,1.35],[0.838,1.395],[0.788,1.45],[0.728,1.515],[0.672,1.58],[0.628,1.645],[0.588,1.69],[0.54,1.71],[0.475,1.705],[0.395,1.685],[0.295,1.635],[0.20,1.585],[0.10,1.54],[0.0,1.51],[-0.10,1.495],[-0.21,1.46],[-0.32,1.42],[-0.41,1.38],[-0.465,1.345],[-0.53,1.335],[-0.63,1.33],[-0.69,1.32],[-0.715,1.39],[-0.745,1.47],[-0.78,1.51],[-0.84,1.53],[-0.89,1.565],[-0.93,1.637],[-0.92,1.62],[-0.895,1.57],[-0.86,1.51],[-0.82,1.45],[-0.785,1.405],[-0.70,1.41],[-0.585,1.455],[-0.495,1.48],[-0.36,1.505],[-0.275,1.513],[-0.185,1.538],[-0.10,1.563],[-0.02,1.575],[0.06,1.555],[0.125,1.52],[0.235,1.495],[0.345,1.465],[0.48,1.443],[0.61,1.42],[0.745,1.392],[0.83,1.38],[0.91,1.372],[1.00,1.372],[1.10,1.368],[1.17,1.36],[1.22,1.375],[1.275,1.43],[1.32,1.455],[1.37,1.475],[1.42,1.49],[1.49,1.48],[1.50,1.455],[1.41,1.45],[1.39,1.432],[1.48,1.43],[1.51,1.45],[1.525,1.49],[1.53,1.455],[1.49,1.405],[1.44,1.40],[1.37,1.42],[1.32,1.43],[1.285,1.395],[1.255,1.345],[1.24,1.295],[1.26,1.28],[1.30,1.305],[1.33,1.355],[1.345,1.46],[1.35,1.57],[1.355,1.68],[1.35,1.74],[1.33,1.715],[1.27,1.69],[1.19,1.675],[1.10,1.665],[1.00,1.66],[0.93,1.655],[0.895,1.64],[0.855,1.60],[0.825,1.555],[0.815,1.50],[0.825,1.435],[0.855,1.37],[0.905,1.32],[0.985,1.305],[1.08,1.30],[1.18,1.295],[1.24,1.295],[1.25,1.32],[1.29,1.37],[1.33,1.415],[1.345,1.52],[1.335,1.62],[1.32,1.665]];
const e_ours = [[0.885,1.22],[0.878,1.29],[0.862,1.345],[0.832,1.39],[0.782,1.445],[0.722,1.51],[0.665,1.575],[0.62,1.64],[0.58,1.685],[0.535,1.70],[0.47,1.695],[0.39,1.672],[0.29,1.62],[0.195,1.572],[0.095,1.527],[-0.005,1.50],[-0.105,1.482],[-0.215,1.45],[-0.325,1.41],[-0.415,1.37],[-0.47,1.335],[-0.535,1.32],[-0.635,1.318],[-0.69,1.305],[-0.71,1.375],[-0.74,1.455],[-0.775,1.50],[-0.835,1.515],[-0.885,1.54],[-0.918,1.591],[-0.91,1.585],[-0.89,1.55],[-0.855,1.495],[-0.815,1.44],[-0.785,1.395],[-0.70,1.40],[-0.59,1.445],[-0.50,1.468],[-0.365,1.492],[-0.28,1.50],[-0.19,1.525],[-0.10,1.55],[-0.025,1.56],[0.055,1.545],[0.12,1.51],[0.23,1.485],[0.34,1.455],[0.475,1.435],[0.605,1.41],[0.74,1.385],[0.83,1.372],[0.91,1.365],[1.00,1.363],[1.10,1.36],[1.17,1.355],[1.22,1.365],[1.27,1.415],[1.315,1.445],[1.365,1.465],[1.415,1.475],[1.485,1.465],[1.495,1.445],[1.41,1.44],[1.39,1.425],[1.475,1.42],[1.51,1.44],[1.535,1.505],[1.54,1.465],[1.495,1.405],[1.445,1.40],[1.375,1.42],[1.325,1.43],[1.295,1.395],[1.265,1.345],[1.25,1.295],[1.27,1.28],[1.31,1.305],[1.34,1.355],[1.355,1.46],[1.36,1.57],[1.365,1.675],[1.36,1.73],[1.335,1.71],[1.275,1.685],[1.195,1.668],[1.10,1.658],[1.005,1.65],[0.93,1.65],[0.90,1.64],[0.86,1.60],[0.83,1.55],[0.82,1.495],[0.83,1.43],[0.86,1.368],[0.91,1.318],[0.99,1.302],[1.085,1.298],[1.18,1.293],[1.24,1.293],[1.255,1.32],[1.295,1.37],[1.335,1.41],[1.355,1.515],[1.345,1.615],[1.33,1.66]];

// ---------------- panel (f): x-z ----------------
const f_gt = [[-1.151,1.192],[-1.096,1.235],[-1.024,1.302],[-0.933,1.345],[-0.824,1.381],[-0.733,1.412],[-0.642,1.429],[-0.532,1.424],[-0.387,1.413],[-0.205,1.406],[-0.114,1.397],[-0.023,1.363],[0.068,1.326],[0.141,1.309],[0.232,1.320],[0.286,1.357],[0.319,1.406],[0.346,1.467],[0.359,1.528],[0.363,1.577],[0.405,1.550],[0.446,1.491],[0.487,1.449],[0.523,1.400],[0.559,1.351],[0.605,1.317],[0.632,1.309],[0.665,1.326],[0.687,1.394],[0.723,1.485],[0.759,1.571],[0.796,1.644],[0.829,1.660],[0.836,1.589],[0.850,1.467],[0.869,1.351],[0.896,1.302],[0.932,1.296],[0.987,1.317],[1.032,1.369],[1.069,1.412],[1.142,1.436],[1.214,1.443],[1.287,1.467],[1.342,1.516],[1.360,1.571],[1.342,1.620],[1.324,1.650],[1.369,1.632],[1.324,1.601],[1.320,1.565],[1.378,1.534],[1.287,1.473],[1.214,1.449],[1.123,1.443],[1.032,1.455],[0.923,1.470],[0.814,1.491],[0.705,1.510],[0.596,1.540],[0.487,1.583],[0.377,1.623],[0.268,1.666],[0.186,1.696],[0.104,1.663],[0.032,1.638],[-0.059,1.626],[-0.168,1.601],[-0.278,1.577],[-0.387,1.565],[-0.441,1.534],[-0.487,1.510],[-0.511,1.485],[-0.532,1.510],[-0.587,1.553],[-0.678,1.595],[-0.769,1.638],[-0.827,1.656],[-0.869,1.589],[-0.896,1.504],[-0.933,1.498],[-0.951,1.485],[-0.978,1.436],[-1.024,1.357],[-1.078,1.284],[-1.138,1.198],
  GAP,[-0.068,1.589],[-0.205,1.580],[-0.314,1.568],[-0.423,1.560],[-0.514,1.553],[-0.605,1.540],[-0.696,1.528],[-0.787,1.519],[-0.860,1.516],[-0.914,1.519],[-0.924,1.491],[-0.878,1.467],[-0.787,1.452],[-0.696,1.439],
  GAP,[-0.023,1.632],[0.086,1.577],[0.214,1.510],[0.341,1.443],[0.450,1.388],[0.541,1.339],[0.605,1.308],
  GAP,[0.705,1.510],[0.796,1.504],[0.887,1.513],[0.996,1.501],[1.051,1.479],[1.069,1.455],[1.051,1.418],[1.014,1.381],[0.960,1.326],[0.923,1.302],
  GAP,[-0.560,1.601],[-0.596,1.528],[-0.623,1.406],[-0.632,1.293],[-0.569,1.357],[-0.496,1.443],[-0.441,1.491]];
const f_orb2 = [[-1.14,1.20],[-1.09,1.24],[-1.02,1.30],[-0.93,1.35],[-0.82,1.385],[-0.73,1.415],[-0.64,1.432],[-0.53,1.428],[-0.39,1.418],[-0.21,1.412],[-0.12,1.40],[-0.04,1.36],[0.05,1.32],[0.12,1.30],[0.22,1.325],[0.27,1.37],[0.30,1.42],[0.33,1.50],[0.345,1.58],[0.38,1.60],[0.42,1.53],[0.47,1.45],[0.52,1.37],[0.56,1.32],[0.59,1.30],[0.63,1.315],[0.66,1.40],[0.69,1.52],[0.73,1.60],[0.80,1.65],[0.835,1.685],[0.83,1.60],[0.84,1.47],[0.86,1.35],[0.88,1.30],[0.93,1.285],[0.99,1.31],[1.04,1.37],[1.08,1.42],[1.15,1.445],[1.22,1.45],[1.29,1.475],[1.345,1.525],[1.37,1.58],[1.36,1.63],[1.38,1.645],[1.39,1.60],[1.39,1.54],[1.30,1.48],[1.22,1.455],[1.13,1.45],[1.03,1.465],[0.92,1.48],[0.81,1.50],[0.70,1.52],[0.60,1.55],[0.49,1.59],[0.38,1.63],[0.30,1.68],[0.27,1.70],[0.23,1.67],[0.15,1.66],[0.10,1.705],[0.05,1.64],[-0.06,1.63],[-0.17,1.61],[-0.28,1.585],[-0.39,1.57],[-0.45,1.55],[-0.50,1.52],[-0.52,1.50],[-0.55,1.52],[-0.60,1.56],[-0.68,1.60],[-0.77,1.59],[-0.80,1.57],[-0.85,1.50],[-0.90,1.49],[-0.95,1.47],[-0.98,1.44],[-1.02,1.36],[-1.07,1.29],[-1.13,1.20],
  GAP,[-0.04,1.62],[0.03,1.55],[0.10,1.48],[0.18,1.42],[0.26,1.37],[0.35,1.32],[0.43,1.30],[0.48,1.30],
  GAP,[-0.62,1.52],[-0.63,1.40],[-0.623,1.247],[-0.58,1.33],[-0.52,1.42],[-0.47,1.50]];
const f_orb3 = [[-1.145,1.195],[-1.09,1.24],[-1.02,1.305],[-0.93,1.35],[-0.82,1.385],[-0.73,1.415],[-0.64,1.43],[-0.53,1.43],[-0.39,1.42],[-0.21,1.41],[-0.12,1.398],[-0.03,1.36],[0.06,1.325],[0.13,1.305],[0.225,1.32],[0.28,1.36],[0.31,1.41],[0.34,1.49],[0.35,1.57],[0.39,1.60],[0.43,1.54],[0.48,1.46],[0.53,1.38],[0.57,1.33],[0.60,1.305],[0.64,1.32],[0.67,1.40],[0.70,1.52],[0.74,1.61],[0.80,1.67],[0.85,1.72],[0.855,1.62],[0.86,1.47],[0.875,1.35],[0.90,1.27],[0.94,1.26],[0.99,1.30],[1.04,1.365],[1.08,1.42],[1.15,1.445],[1.22,1.45],[1.29,1.47],[1.345,1.52],[1.37,1.575],[1.375,1.63],[1.39,1.65],[1.40,1.62],[1.40,1.55],[1.38,1.52],[1.29,1.475],[1.22,1.45],[1.13,1.445],[1.03,1.46],[0.92,1.475],[0.81,1.495],[0.70,1.515],[0.60,1.545],[0.49,1.585],[0.38,1.625],[0.30,1.675],[0.25,1.69],[0.20,1.66],[0.12,1.67],[0.05,1.65],[-0.06,1.635],[-0.17,1.61],[-0.28,1.585],[-0.39,1.575],[-0.45,1.56],[-0.50,1.60],[-0.52,1.52],[-0.55,1.525],[-0.60,1.56],[-0.68,1.60],[-0.76,1.60],[-0.80,1.58],[-0.85,1.52],[-0.90,1.50],[-0.95,1.475],[-0.98,1.44],[-1.02,1.36],[-1.07,1.29],[-1.13,1.20],
  GAP,[-0.03,1.63],[0.06,1.56],[0.15,1.49],[0.24,1.42],[0.33,1.36],[0.41,1.31],[0.48,1.29],[0.53,1.29],
  GAP,[-0.60,1.53],[-0.615,1.42],[-0.62,1.29],[-0.58,1.34],[-0.52,1.43],[-0.47,1.50]];
const f_ours = [[-1.15,1.19],[-1.095,1.235],[-1.025,1.30],[-0.935,1.345],[-0.825,1.38],[-0.735,1.41],[-0.645,1.425],[-0.535,1.42],[-0.39,1.41],[-0.21,1.404],[-0.12,1.395],[-0.04,1.355],[0.05,1.315],[0.10,1.29],[0.20,1.31],[0.26,1.35],[0.30,1.42],[0.33,1.52],[0.35,1.58],[0.38,1.56],[0.41,1.51],[0.46,1.45],[0.51,1.37],[0.55,1.31],[0.60,1.30],[0.66,1.38],[0.70,1.55],[0.75,1.70],[0.814,1.788],[0.81,1.63],[0.815,1.50],[0.82,1.37],[0.85,1.28],[0.90,1.27],[0.96,1.30],[1.02,1.36],[1.07,1.42],[1.14,1.44],[1.21,1.445],[1.28,1.47],[1.34,1.515],[1.365,1.57],[1.37,1.625],[1.385,1.645],[1.39,1.60],[1.39,1.53],[1.28,1.47],[1.21,1.45],[1.12,1.447],[1.03,1.47],[0.92,1.49],[0.81,1.505],[0.70,1.525],[0.59,1.555],[0.48,1.595],[0.37,1.64],[0.341,1.62],[0.305,1.724],[0.259,1.763],[0.195,1.632],[0.15,1.65],[0.06,1.66],[0.0,1.64],[-0.06,1.625],[-0.17,1.60],[-0.28,1.58],[-0.39,1.568],[-0.44,1.54],[-0.49,1.51],[-0.52,1.49],[-0.55,1.515],[-0.60,1.555],[-0.68,1.595],[-0.76,1.58],[-0.80,1.55],[-0.86,1.51],[-0.91,1.49],[-0.95,1.47],[-0.98,1.43],[-1.025,1.35],[-1.08,1.28],[-1.14,1.19],
  GAP,[-0.02,1.64],[0.08,1.56],[0.17,1.49],[0.26,1.43],[0.35,1.37],[0.44,1.32],[0.52,1.29],[0.56,1.29],
  GAP,[-0.61,1.53],[-0.62,1.40],[-0.615,1.27],[-0.57,1.34],[-0.51,1.43],[-0.46,1.51]];

// ---------------- layout / styling ----------------
const CF = "'DejaVu Sans Condensed','Liberation Sans Narrow','DejaVu Sans',sans-serif";
const NF = "'DejaVu Sans',sans-serif";
const COLORS = ['#dc6a3a', '#8585e2', '#9a9a2e', '#c200c2'];

const PANELS = [
  { data: [a_orb2, a_orb3, a_ours, a_gt], grid: { left: 245, top: 65, width: 981, height: 795 },
    xr: [-0.83, 1.834], yr: [-0.492, 0.988], xt: TX_AD, yt: TY_A, xd: 1, yd: 2, yname: 'y [m]',
    font: CF, tick: 47, name: 49, xm: 40, ym: 30, xg: 144, yg: 185, ew: 8, gw: 6, lab: [524, 1110] },
  { data: [b_orb2, b_orb3, b_ours, b_gt], grid: { left: 1443, top: 65, width: 917, height: 799 },
    xr: [-1.057, 1.673], yr: [-0.613, 1.027], xt: TX_BCEF, yt: TY_B, xd: 1, yd: 2, yname: 'y [m]',
    font: CF, tick: 47, name: 49, xm: 36, ym: 30, xg: 134, yg: 166, ew: 8, gw: 6, lab: [1881, 1110] },
  { data: [c_orb2, c_orb3, c_ours, c_gt], grid: { left: 2543, top: 60, width: 930, height: 798 },
    xr: [-1.285, 1.534], yr: [-1.5, 1.0], xt: TX_BCEF, yt: TY_C, xd: 1, yd: 1, yname: 'y [m]',
    font: NF, tick: 34, name: 34, xm: 22, ym: 22, xg: 89, yg: 144, ew: 3.8, gw: 3.8, lab: [3124, 1110] },
  { data: [d_orb2, d_orb3, d_ours, d_gt], grid: { left: 205, top: 1185, width: 1002, height: 355 },
    xr: [-0.831, 1.838], yr: [1.167, 1.903], xt: TX_AD, yt: TZ, xd: 1, yd: 2, yname: 'z [m]',
    font: CF, tick: 45, name: 45, xm: 32, ym: 31, xg: 125, yg: 149, ew: 7, gw: 6, lab: [524, 1812] },
  { data: [e_orb2, e_orb3, e_ours, e_gt], grid: { left: 1405, top: 1175, width: 943, height: 362 },
    xr: [-1.055, 1.673], yr: [1.193, 1.776], xt: TX_BCEF, yt: TZ, xd: 1, yd: 2, yname: 'z [m]',
    font: CF, tick: 47, name: 49, xm: 50, ym: 25, xg: 168, yg: 140, ew: 7.5, gw: 6.5, lab: [1881, 1812] },
  { data: [f_orb2, f_orb3, f_ours, f_gt], grid: { left: 2524, top: 1181, width: 949, height: 357 },
    xr: [-1.286, 1.538], yr: [1.160, 1.815], xt: TX_BCEF, yt: TZ, xd: 1, yd: 2, yname: 'z [m]',
    font: CF, tick: 49, name: 49, xm: 43, ym: 31, xg: 153, yg: 144, ew: 5.5, gw: 6, lab: [3123, 1812] }
];

function fmt(dec) {
  return function (v) {
    const s = Math.abs(v).toFixed(dec);
    return (v < -1e-9 ? '\u2212' : '') + s;
  };
}

const grids = [], xAxes = [], yAxes = [], series = [], graphics = [];
const splitStyle = { type: [14, 7], color: '#b7b7b7', width: 2.5 };
PANELS.forEach(function (p, i) {
  grids.push(Object.assign({ show: true, borderColor: '#1e1e1e', borderWidth: 3, backgroundColor: 'rgba(0,0,0,0)', z: 5 }, p.grid));
  xAxes.push({
    type: 'value', gridIndex: i, min: p.xr[0], max: p.xr[1],
    axisLine: { show: false, onZero: false },
    axisTick: { show: true, customValues: p.xt, length: 12, lineStyle: { color: '#1e1e1e', width: 2.5 } },
    axisLabel: { customValues: p.xt, formatter: fmt(p.xd), fontSize: p.tick, fontFamily: p.font, color: '#1e1e1e', margin: p.xm },
    splitLine: { show: true, showMinLine: false, showMaxLine: false, lineStyle: splitStyle },
    name: 'x [m]', nameLocation: 'middle', nameGap: p.xg,
    nameTextStyle: { fontSize: p.name, fontFamily: p.font, color: '#1e1e1e', align: 'center', verticalAlign: 'middle' }
  });
  yAxes.push({
    type: 'value', gridIndex: i, min: p.yr[0], max: p.yr[1],
    axisLine: { show: false, onZero: false },
    axisTick: { show: true, customValues: p.yt, length: 12, lineStyle: { color: '#1e1e1e', width: 2.5 } },
    axisLabel: { customValues: p.yt, formatter: fmt(p.yd), fontSize: p.tick, fontFamily: p.font, color: '#1e1e1e', margin: p.ym },
    splitLine: { show: true, showMinLine: false, showMaxLine: false, lineStyle: splitStyle },
    name: p.yname, nameLocation: 'middle', nameGap: p.yg, nameRotate: 90,
    nameTextStyle: { fontSize: p.name, fontFamily: p.font, color: '#1e1e1e', align: 'center', verticalAlign: 'middle' }
  });
  p.data.forEach(function (arr, k) {
    const isGT = k === 3;
    series.push({
      type: 'line', name: NAMES[k], xAxisIndex: i, yAxisIndex: i, data: arr,
      symbol: 'none', showSymbol: false, smooth: 0.25, connectNulls: false, clip: true,
      color: COLORS[k], itemStyle: { color: COLORS[k] },
      lineStyle: { color: COLORS[k], width: isGT ? p.gw : p.ew, opacity: isGT ? 1 : 0.9, cap: 'round', join: 'round' },
      z: isGT ? 4 : 3, silent: true, emphasis: { disabled: true }
    });
  });
  graphics.push({
    type: 'text', x: p.lab[0], y: p.lab[1], silent: true,
    style: {
      text: '{p|(}{b|' + PANEL_LABELS[i] + '}{p|)}', align: 'center', verticalAlign: 'middle',
      rich: {
        p: { fontFamily: "'Liberation Serif','DejaVu Serif',serif", fontSize: 82, fill: '#111' },
        b: { fontFamily: "'Liberation Serif','DejaVu Serif',serif", fontSize: 82, fontWeight: 'bold', fill: '#111' }
      }
    }
  });
});

const chart = echarts.init(document.getElementById('c'), null, { renderer: 'canvas' });
chart.setOption({
  backgroundColor: '#ffffff',
  animation: false,
  grid: grids, xAxis: xAxes, yAxis: yAxes, series: series,
  legend: {
    data: NAMES, left: 249, top: 74, orient: 'vertical', icon: 'rect', itemWidth: 56, itemHeight: 5, itemGap: 15,
    padding: [10, 16, 16, 10], backgroundColor: 'rgba(255,255,255,0.9)', borderColor: '#d4d4d4', borderWidth: 2, borderRadius: 6,
    selectedMode: false,
    textStyle: { fontSize: 31, fontFamily: CF, color: '#222', lineHeight: 36, padding: [0, 0, 0, 14] }
  },
  graphic: graphics
});
</script>
</body></html>
